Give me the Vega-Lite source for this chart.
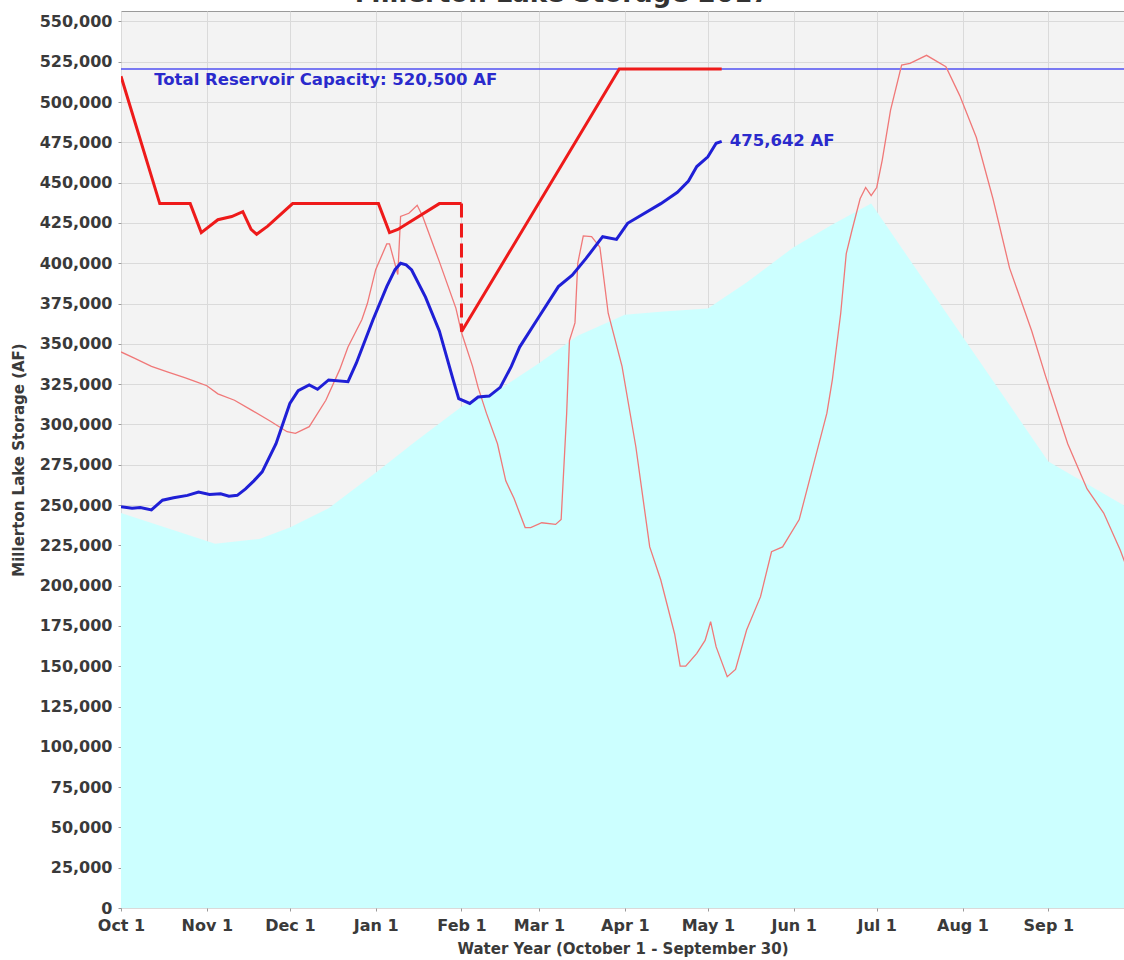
{
  "$schema": "https://vega.github.io/schema/vega-lite/v6.json",
  "width": 1003,
  "height": 897,
  "autosize": {"type": "none"},
  "padding": {"left": 121, "top": 11, "right": 0, "bottom": 52},
  "background": "white",
  "title": {"text": "Millerton Lake Storage 2017", "font": "DejaVu Sans", "fontSize": 26, "fontWeight": "bold", "color": "#333333", "anchor": "middle", "baseline": "alphabetic", "offset": 5, "dx": -60, "dy": 22},
  "config": {
    "view": {"fill": "#f3f3f3", "stroke": "#9a9a9a", "strokeWidth": 1},
    "axis": {"domain": false, "grid": true, "gridColor": "#dadada", "gridWidth": 1, "tickColor": "#9a9a9a", "tickSize": 3, "labelFont": "DejaVu Sans", "labelFontSize": 16, "labelFontWeight": "bold", "labelColor": "#3a3a3a", "titleFont": "DejaVu Sans", "titleFontSize": 15, "titleFontWeight": "bold", "titleColor": "#3a3a3a", "labelOverlap": false},
    "text": {"font": "DejaVu Sans"}
  },
  "datasets": {
    "normal": [
      {"date": "2016-10-01", "value": 245000},
      {"date": "2016-11-04", "value": 226000},
      {"date": "2016-11-20", "value": 229000},
      {"date": "2016-12-01", "value": 236000},
      {"date": "2016-12-15", "value": 248000},
      {"date": "2017-01-01", "value": 270000},
      {"date": "2017-01-15", "value": 289000},
      {"date": "2017-02-01", "value": 311000},
      {"date": "2017-02-15", "value": 322000},
      {"date": "2017-03-01", "value": 338000},
      {"date": "2017-03-15", "value": 355000},
      {"date": "2017-04-01", "value": 368000},
      {"date": "2017-04-15", "value": 370000},
      {"date": "2017-05-01", "value": 372000},
      {"date": "2017-05-15", "value": 388000},
      {"date": "2017-06-01", "value": 410000},
      {"date": "2017-06-15", "value": 424000},
      {"date": "2017-06-29", "value": 437000},
      {"date": "2017-09-01", "value": 277000},
      {"date": "2017-09-30", "value": 248000}
    ],
    "capacity": [
      {"date": "2016-10-01", "value": 520500},
      {"date": "2017-09-30", "value": 520500}
    ],
    "last_year": [
      {"date": "2016-10-01", "value": 345000},
      {"date": "2016-10-06", "value": 341000},
      {"date": "2016-10-12", "value": 336000},
      {"date": "2016-10-18", "value": 332500},
      {"date": "2016-10-24", "value": 329000},
      {"date": "2016-10-28", "value": 326500},
      {"date": "2016-11-01", "value": 324000},
      {"date": "2016-11-05", "value": 319000},
      {"date": "2016-11-11", "value": 315000},
      {"date": "2016-11-17", "value": 309000},
      {"date": "2016-11-24", "value": 302000},
      {"date": "2016-11-30", "value": 295500},
      {"date": "2016-12-03", "value": 294500},
      {"date": "2016-12-08", "value": 298600},
      {"date": "2016-12-14", "value": 315000},
      {"date": "2016-12-19", "value": 334000},
      {"date": "2016-12-22", "value": 348000},
      {"date": "2016-12-27", "value": 365000},
      {"date": "2016-12-29", "value": 375000},
      {"date": "2017-01-01", "value": 396000},
      {"date": "2017-01-05", "value": 412000},
      {"date": "2017-01-06", "value": 412000},
      {"date": "2017-01-09", "value": 393000},
      {"date": "2017-01-10", "value": 429000},
      {"date": "2017-01-13", "value": 431000},
      {"date": "2017-01-16", "value": 436000},
      {"date": "2017-01-18", "value": 429000},
      {"date": "2017-01-24", "value": 401000},
      {"date": "2017-01-30", "value": 372000},
      {"date": "2017-02-01", "value": 357000},
      {"date": "2017-02-05", "value": 336000},
      {"date": "2017-02-07", "value": 323000},
      {"date": "2017-02-10", "value": 307000},
      {"date": "2017-02-14", "value": 288000},
      {"date": "2017-02-17", "value": 265000},
      {"date": "2017-02-20", "value": 254000},
      {"date": "2017-02-24", "value": 236000},
      {"date": "2017-02-26", "value": 236000},
      {"date": "2017-03-02", "value": 239000},
      {"date": "2017-03-07", "value": 238000},
      {"date": "2017-03-09", "value": 241000},
      {"date": "2017-03-11", "value": 307000},
      {"date": "2017-03-12", "value": 352000},
      {"date": "2017-03-14", "value": 363000},
      {"date": "2017-03-15", "value": 400000},
      {"date": "2017-03-17", "value": 417000},
      {"date": "2017-03-20", "value": 416500},
      {"date": "2017-03-23", "value": 410000},
      {"date": "2017-03-26", "value": 369000},
      {"date": "2017-03-31", "value": 336000},
      {"date": "2017-04-05", "value": 286000},
      {"date": "2017-04-10", "value": 224000},
      {"date": "2017-04-14", "value": 203500},
      {"date": "2017-04-19", "value": 170000},
      {"date": "2017-04-21", "value": 150000},
      {"date": "2017-04-23", "value": 150000},
      {"date": "2017-04-27", "value": 158000},
      {"date": "2017-04-30", "value": 166000},
      {"date": "2017-05-02", "value": 177600},
      {"date": "2017-05-04", "value": 162000},
      {"date": "2017-05-08", "value": 143500},
      {"date": "2017-05-11", "value": 148000},
      {"date": "2017-05-15", "value": 172500},
      {"date": "2017-05-20", "value": 193000},
      {"date": "2017-05-24", "value": 221000},
      {"date": "2017-05-28", "value": 224000},
      {"date": "2017-06-03", "value": 241000},
      {"date": "2017-06-08", "value": 274000},
      {"date": "2017-06-13", "value": 307000},
      {"date": "2017-06-15", "value": 328000},
      {"date": "2017-06-18", "value": 369000},
      {"date": "2017-06-20", "value": 406000},
      {"date": "2017-06-22", "value": 420000},
      {"date": "2017-06-25", "value": 440000},
      {"date": "2017-06-27", "value": 447000},
      {"date": "2017-06-29", "value": 442000},
      {"date": "2017-07-01", "value": 447000},
      {"date": "2017-07-03", "value": 464000},
      {"date": "2017-07-06", "value": 495000},
      {"date": "2017-07-10", "value": 523000},
      {"date": "2017-07-13", "value": 524000},
      {"date": "2017-07-19", "value": 529000},
      {"date": "2017-07-26", "value": 522000},
      {"date": "2017-07-31", "value": 504000},
      {"date": "2017-08-06", "value": 478000},
      {"date": "2017-08-12", "value": 440000},
      {"date": "2017-08-18", "value": 397000},
      {"date": "2017-08-26", "value": 358000},
      {"date": "2017-08-31", "value": 330000},
      {"date": "2017-09-08", "value": 288000},
      {"date": "2017-09-15", "value": 260000},
      {"date": "2017-09-21", "value": 245000},
      {"date": "2017-09-27", "value": 222000},
      {"date": "2017-09-30", "value": 208000}
    ],
    "flood_control": [
      {"date": "2016-10-01", "value": 516000, "segment": "A"},
      {"date": "2016-10-15", "value": 437000, "segment": "A"},
      {"date": "2016-10-26", "value": 437000, "segment": "A"},
      {"date": "2016-10-30", "value": 419000, "segment": "A"},
      {"date": "2016-11-05", "value": 427000, "segment": "A"},
      {"date": "2016-11-10", "value": 429000, "segment": "A"},
      {"date": "2016-11-14", "value": 432000, "segment": "A"},
      {"date": "2016-11-17", "value": 421000, "segment": "A"},
      {"date": "2016-11-19", "value": 418000, "segment": "A"},
      {"date": "2016-11-23", "value": 423000, "segment": "A"},
      {"date": "2016-12-02", "value": 437000, "segment": "A"},
      {"date": "2017-01-02", "value": 437000, "segment": "A"},
      {"date": "2017-01-06", "value": 419000, "segment": "A"},
      {"date": "2017-01-09", "value": 421000, "segment": "A"},
      {"date": "2017-01-24", "value": 437000, "segment": "A"},
      {"date": "2017-02-01", "value": 437000, "segment": "A"},
      {"date": "2017-02-01", "value": 357500, "segment": "B"},
      {"date": "2017-03-30", "value": 520500, "segment": "B"},
      {"date": "2017-05-06", "value": 520500, "segment": "B"}
    ],
    "flood_gap": [
      {"date": "2017-02-01", "value": 437000},
      {"date": "2017-02-01", "value": 357500}
    ],
    "storage": [
      {"date": "2016-10-01", "value": 249000},
      {"date": "2016-10-05", "value": 248000},
      {"date": "2016-10-08", "value": 248500},
      {"date": "2016-10-12", "value": 247000},
      {"date": "2016-10-16", "value": 253000},
      {"date": "2016-10-20", "value": 254500},
      {"date": "2016-10-25", "value": 256000},
      {"date": "2016-10-29", "value": 258000},
      {"date": "2016-11-02", "value": 256500},
      {"date": "2016-11-06", "value": 257000},
      {"date": "2016-11-09", "value": 255500},
      {"date": "2016-11-12", "value": 256000},
      {"date": "2016-11-15", "value": 260000},
      {"date": "2016-11-18", "value": 265000},
      {"date": "2016-11-21", "value": 270600},
      {"date": "2016-11-26", "value": 288000},
      {"date": "2016-12-01", "value": 313000},
      {"date": "2016-12-04", "value": 321000},
      {"date": "2016-12-08", "value": 324500},
      {"date": "2016-12-11", "value": 321800},
      {"date": "2016-12-15", "value": 327600},
      {"date": "2016-12-22", "value": 326500},
      {"date": "2016-12-25", "value": 338000},
      {"date": "2016-12-31", "value": 364800},
      {"date": "2017-01-05", "value": 385500},
      {"date": "2017-01-08", "value": 396000},
      {"date": "2017-01-10", "value": 400000},
      {"date": "2017-01-12", "value": 399000},
      {"date": "2017-01-14", "value": 395800},
      {"date": "2017-01-19", "value": 379000},
      {"date": "2017-01-24", "value": 358000},
      {"date": "2017-01-29", "value": 327600},
      {"date": "2017-01-31", "value": 316000},
      {"date": "2017-02-04", "value": 313000},
      {"date": "2017-02-07", "value": 317000},
      {"date": "2017-02-11", "value": 317600},
      {"date": "2017-02-15", "value": 323000},
      {"date": "2017-02-19", "value": 336000},
      {"date": "2017-02-22", "value": 348000},
      {"date": "2017-03-01", "value": 366800},
      {"date": "2017-03-08", "value": 385500},
      {"date": "2017-03-13", "value": 392600},
      {"date": "2017-03-18", "value": 403000},
      {"date": "2017-03-24", "value": 416500},
      {"date": "2017-03-29", "value": 414800},
      {"date": "2017-04-02", "value": 424800},
      {"date": "2017-04-06", "value": 428900},
      {"date": "2017-04-14", "value": 437000},
      {"date": "2017-04-20", "value": 444000},
      {"date": "2017-04-24", "value": 451000},
      {"date": "2017-04-27", "value": 460000},
      {"date": "2017-05-01", "value": 466000},
      {"date": "2017-05-04", "value": 474400},
      {"date": "2017-05-06", "value": 475642}
    ],
    "cap_label": [
      {"date": "2016-10-13", "value": 520500, "label": "Total Reservoir Capacity: 520,500 AF"}
    ],
    "storage_label": [
      {"date": "2017-05-06", "value": 475642, "label": "475,642 AF"}
    ]
  },
  "encoding": {
    "x": {
      "field": "date",
      "type": "temporal",
      "scale": {"type": "utc", "domain": [{"year": 2016, "month": 10, "date": 1, "utc": true}, {"year": 2017, "month": 9, "date": 28, "hours": 8, "utc": true}]},
      "axis": {"title": "Water Year (October 1 - September 30)", "tickCount": {"interval": "month", "step": 1}, "format": "%b %-d", "labelFlush": false, "labelPadding": 6, "titlePadding": 8}
    },
    "y": {
      "field": "value",
      "type": "quantitative",
      "scale": {"domain": [0, 556500], "nice": false, "zero": true},
      "axis": {"title": "Millerton Lake Storage (AF)", "values": [0, 25000, 50000, 75000, 100000, 125000, 150000, 175000, 200000, 225000, 250000, 275000, 300000, 325000, 350000, 375000, 400000, 425000, 450000, 475000, 500000, 525000, 550000], "format": ",d", "labelPadding": 6, "titlePadding": 13}
    }
  },
  "layer": [
    {"data": {"name": "normal"}, "mark": {"type": "area", "color": "#ccffff", "opacity": 1, "clip": true}},
    {"data": {"name": "capacity"}, "mark": {"type": "line", "color": "#5050f2", "strokeWidth": 1.5, "clip": true}},
    {"data": {"name": "last_year"}, "mark": {"type": "line", "color": "#f07878", "strokeWidth": 1.3, "clip": true}},
    {"data": {"name": "flood_control"}, "mark": {"type": "line", "color": "#ee1a1a", "strokeWidth": 3, "clip": true}, "encoding": {"detail": {"field": "segment"}}},
    {"data": {"name": "flood_gap"}, "mark": {"type": "line", "color": "#ee1a1a", "strokeWidth": 3, "strokeDash": [14, 6], "clip": true}},
    {"data": {"name": "storage"}, "mark": {"type": "line", "color": "#1f1fd6", "strokeWidth": 3, "clip": true}},
    {"data": {"name": "cap_label"}, "mark": {"type": "text", "align": "left", "baseline": "middle", "dy": 11, "fontSize": 16.5, "fontWeight": "bold", "color": "#2a2acc"}, "encoding": {"text": {"field": "label"}}},
    {"data": {"name": "storage_label"}, "mark": {"type": "text", "align": "left", "baseline": "middle", "dx": 8, "fontSize": 16.5, "fontWeight": "bold", "color": "#2a2acc"}, "encoding": {"text": {"field": "label"}}}
  ]
}
